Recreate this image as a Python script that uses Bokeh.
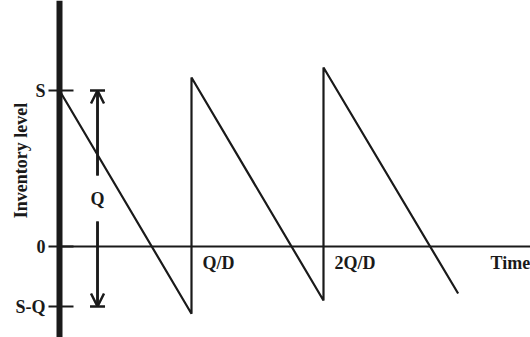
import math
from bokeh.plotting import figure
from bokeh.models import Range1d, Span, Arrow, OpenHead, TeeHead
from bokeh.core.properties import value
from bokeh.embed import file_html
from bokeh.resources import INLINE

# ---- data ----
level_names = ["S", "0", "S-Q"]
level_values = [65, 0, -25]            # S, zero, S-Q
saw_time = [0, 1, 1, 2, 2, 3.02]       # time in units of Q/D
saw_level = [65, -28, 70.4, -22.5, 74.6, -19.6]
cycle_labels = ["Q/D", "2Q/D"]
cycle_times = [1, 2]
q_arrow_time = 0.288
time_label_time = 3.265
y_label_level = 35.8

INK = "#1a1a1a"
FONT = value("Liberation Serif")

W, H = 530, 337
px_per_t = 132.0
px_per_lvl = 2.4
x0_px, y0_px = 59.0, 246.0   # canvas position of (t=0, level=0)

p = figure(width=W, height=H, output_backend="svg", toolbar_location=None,
           x_range=Range1d(-x0_px / px_per_t, (W - x0_px) / px_per_t),
           y_range=Range1d(-(H - y0_px) / px_per_lvl, y0_px / px_per_lvl),
           x_axis_type=None, y_axis_type=None, min_border=0,
           outline_line_color=None, background_fill_color="white",
           border_fill_color="white")

S_val, zero_val, SQ_val = level_values

# vertical (inventory) axis
p.add_layout(Span(location=0, dimension="height", line_width=6, line_color=INK))
# time axis (baseline) from the vertical axis to the right edge
p.segment(x0=[0], y0=[zero_val], x1=[p.x_range.end], y1=[zero_val],
          line_width=2, line_color=INK)
# tick marks
p.ray(x=[0] * len(level_values), y=level_values, length=11, angle=math.pi,
      length_units="screen", line_width=2, line_color=INK)
p.ray(x=[0] * len(level_values), y=level_values, length=14, angle=0,
      length_units="screen", line_width=2, line_color=INK)
# tick labels
p.text(x=[0] * len(level_values), y=level_values, text=level_names,
       x_offset=-14, text_align="right", text_baseline="middle",
       text_font=FONT, text_font_size="18px", text_font_style="bold",
       text_color=INK)
# y label
p.text(x=[0], y=[y_label_level], text=["Inventory level"], angle=math.pi / 2,
       x_offset=-39, text_align="center", text_baseline="middle",
       text_font=FONT, text_font_size="18px", text_font_style="bold",
       text_color=INK)

# sawtooth inventory
p.line(x=saw_time, y=saw_level, line_width=2.2, line_color=INK)

# cycle labels
p.text(x=cycle_times, y=[zero_val] * len(cycle_times), text=cycle_labels,
       x_offset=11, y_offset=6, text_align="left", text_baseline="top",
       text_font=FONT, text_font_size="18px", text_font_style="bold",
       text_color=INK)
p.text(x=[time_label_time], y=[zero_val], text=["Time"],
       y_offset=6, text_align="left", text_baseline="top",
       text_font=FONT, text_font_size="18px", text_font_style="bold",
       text_color=INK)

# Q dimension arrow
q_mid = (S_val + SQ_val) / 2
q_gap = 9.6
for y_from, y_to in [(q_mid + q_gap, S_val), (q_mid - q_gap, SQ_val)]:
    p.add_layout(Arrow(end=OpenHead(size=13, line_width=2.5, line_color=INK),
                       x_start=q_arrow_time, y_start=y_from,
                       x_end=q_arrow_time, y_end=y_to,
                       line_width=2.5, line_color=INK))
    p.add_layout(Arrow(end=TeeHead(size=15, line_width=2.5, line_color=INK),
                       x_start=q_arrow_time, y_start=y_from,
                       x_end=q_arrow_time, y_end=y_to,
                       line_width=2.5, line_color=INK))
p.text(x=[q_arrow_time], y=[q_mid], text=["Q"], text_align="center",
       text_baseline="middle", text_font=FONT, text_font_size="18px",
       text_font_style="bold", text_color=INK)

open("out.html", "w").write(file_html(p, INLINE))
